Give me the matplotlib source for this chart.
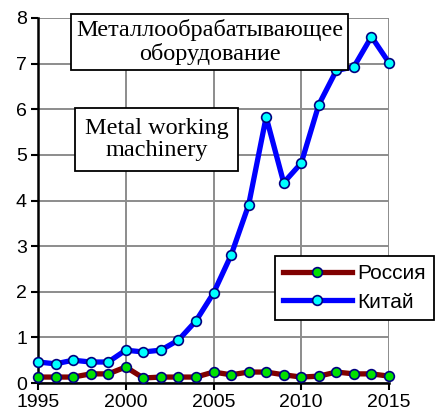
import numpy as np
import matplotlib
matplotlib.use("Agg")
import matplotlib.pyplot as plt

years = np.arange(1995, 2016)
china = [0.46, 0.42, 0.50, 0.46, 0.46, 0.72, 0.68, 0.72, 0.94, 1.36, 1.97,
         2.80, 3.90, 5.83, 4.39, 4.82, 6.10, 6.85, 6.93, 7.59, 7.02]
russia = [0.13, 0.13, 0.13, 0.20, 0.20, 0.35, 0.11, 0.13, 0.13, 0.13, 0.24,
          0.18, 0.24, 0.24, 0.18, 0.13, 0.15, 0.24, 0.20, 0.20, 0.15]
xticks = [1995, 2000, 2005, 2010, 2015]
yticks = list(range(0, 9))

plt.rcParams['font.family'] = ['Liberation Sans', 'DejaVu Sans']

fig = plt.figure(figsize=(4.38, 4.17), dpi=100)
ax = fig.add_axes([38 / 438, 1 - 383 / 417, 351 / 438, 365 / 417])

ax.plot(years, russia, color='#800000', lw=3.8, marker='o', ms=7,
        mfc='#00e000', mec='#000080', mew=1.2, label='Россия', clip_on=False, zorder=4)
ax.plot(years, china, color='#0000ff', lw=3.8, marker='o', ms=7,
        mfc='#00ffff', mec='#000080', mew=1.2, label='Китай', clip_on=False, zorder=3)

ax.set_xlim(1995, 2015)
ax.set_ylim(0, 8)
ax.set_xticks(xticks)
ax.set_yticks(yticks)
ax.grid(True, color='#8c8c8c', lw=1.4)
ax.set_axisbelow(True)
for s in ['top', 'right']:
    ax.spines[s].set_visible(False)
for s in ['left', 'bottom']:
    ax.spines[s].set_linewidth(1.8)
ax.tick_params(direction='out', length=5, width=1.5, labelsize=14, pad=3)

fig.text(209.5 / 438, 1 - 42 / 417, 'Металлообрабатывающее\nоборудование',
         ha='center', va='center', family='Liberation Serif', fontsize=17.5,
         linespacing=1.1,
         bbox=dict(boxstyle='square,pad=0.2', fc='white', ec='black', lw=1.3))
fig.text(156.5 / 438, 1 - 139.5 / 417, 'Metal working\nmachinery',
         ha='center', va='center', family='Liberation Serif', fontsize=17.5,
         linespacing=1.1,
         bbox=dict(boxstyle='square,pad=0.4', fc='white', ec='black', lw=1.3))

leg = ax.legend(loc='upper right', bbox_to_anchor=(434 / 438, 1 - 256 / 417),
                bbox_transform=fig.transFigure, fontsize=15, numpoints=1,
                handlelength=3.3, fancybox=False, framealpha=1, borderaxespad=0,
                borderpad=0.4, handletextpad=0.25, labelspacing=0.45)
leg.get_frame().set_edgecolor('black')
leg.get_frame().set_linewidth(1.3)

fig.savefig('out.png', dpi=100)
